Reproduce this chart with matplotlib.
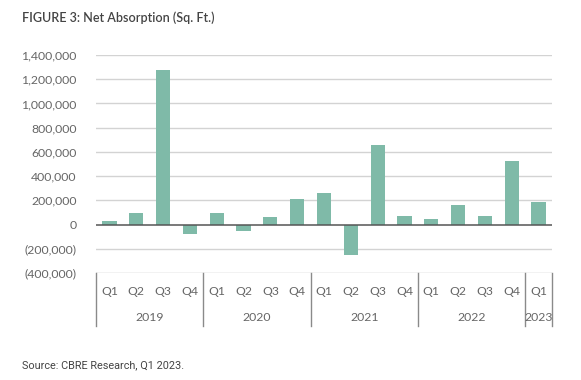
import matplotlib.pyplot as plt
import numpy as np

quarters = ['Q1', 'Q2', 'Q3', 'Q4'] * 4 + ['Q1']
years = ['2019', '2020', '2021', '2022', '2023']
year_counts = [4, 4, 4, 4, 1]
absorption = [30000, 94000, 1274000, -80000,
              94000, -50000, 60000, 212000,
              259000, -250000, 655000, 69000,
              50000, 160000, 69000, 525000,
              190000]
yticks = np.arange(-400000, 1400001, 200000)

bar_color = '#7fbaa8'
text_color = '#666666'

plt.rcParams['font.family'] = ['Lato', 'DejaVu Sans']

fig = plt.figure(figsize=(5.81, 3.8), dpi=100)
ax = fig.add_axes([96 / 581, 1 - 273 / 380, 456 / 581, 218 / 380])

x = np.arange(len(absorption))
ax.bar(x, absorption, width=0.53, color=bar_color, zorder=3)

ax.set_xlim(-0.5, len(absorption) - 0.5)
ax.set_ylim(-400000, 1400000)
ax.set_yticks(yticks)
ax.set_yticklabels(['({:,})'.format(-v) if v < 0 else '{:,}'.format(v) for v in yticks],
                   color=text_color, fontsize=8.8)
ax.tick_params(axis='y', length=0, pad=14)
ax.set_xticks([])
for s in ax.spines.values():
    s.set_visible(False)

# gridlines
for v in yticks[1:]:
    if v == 0:
        ax.axhline(0, color='#555555', lw=1.1, zorder=4)
    else:
        ax.axhline(v, color='#d3d3d3', lw=1.0, zorder=1)
ax.axhline(-400000, color='#bdbdbd', lw=1.0, zorder=1)

# category axis (quarters and years)
trans = ax.get_xaxis_transform()
for i, q in enumerate(quarters):
    ax.text(i, -0.087, q, transform=trans, ha='center', va='center',
            color=text_color, fontsize=8.8)
start = -0.5
edges = [start]
for yr, n in zip(years, year_counts):
    ax.text(start + n / 2, -0.206, yr, transform=trans, ha='center', va='center',
            color=text_color, fontsize=8.8)
    start += n
    edges.append(start)
for e in edges:
    ax.plot([e, e], [0, -0.243], transform=trans, color='#8a8a8a', lw=1.0, clip_on=False)

fig.text(22 / 581, 1 - 18 / 380, 'FIGURE 3: Net Absorption (Sq. Ft.)', ha='left', va='center',
         color='#444444', fontsize=9, fontweight='semibold')
fig.text(22 / 581, 1 - 365 / 380, 'Source: CBRE Research, Q1 2023.', ha='left', va='center',
         color='#444444', fontsize=7.8, family=['Roboto', 'DejaVu Sans'])

fig.savefig('out.png', dpi=100)
